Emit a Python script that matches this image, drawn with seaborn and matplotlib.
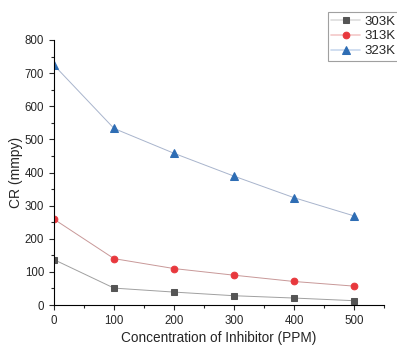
import matplotlib
matplotlib.use('Agg')
import matplotlib.pyplot as plt
import pandas as pd
import seaborn as sns
from matplotlib.ticker import MultipleLocator

# values
conc = [0, 100, 200, 300, 400, 500]
cr_303 = [137, 51, 39, 28, 21, 13]
cr_313 = [259, 140, 110, 90, 71, 57]
cr_323 = [724, 533, 458, 389, 324, 269]
labels = ['303K', '313K', '323K']

df = pd.DataFrame({'conc': conc * 3,
                   'cr': cr_303 + cr_313 + cr_323,
                   'temp': [labels[0]] * 6 + [labels[1]] * 6 + [labels[2]] * 6})

sns.set_style('ticks')
plt.rcParams['font.family'] = ['Liberation Sans', 'DejaVu Sans']

fig = plt.figure(figsize=(3.97, 3.46), dpi=100)
ax = fig.add_axes([54 / 397, 1 - 305 / 346, 330 / 397, 265 / 346])

marker_cols = ['#555555', '#e8383d', '#2e6db4']
line_cols = ['#a0a0a0', '#c89898', '#a8b4cc']
markers = ['s', 'o', '^']
msizes = [4.2, 4.8, 5.2]
for lab, mc, lc, mk, ms in zip(labels, marker_cols, line_cols, markers, msizes):
    sub = df[df.temp == lab]
    sns.lineplot(data=sub, x='conc', y='cr', ax=ax, color=lc, linewidth=0.7,
                 marker=mk, markersize=ms, markerfacecolor=mc,
                 markeredgecolor=mc, label=lab)

ax.set_xlim(0, 550)
ax.set_ylim(0, 800)
ax.xaxis.set_major_locator(MultipleLocator(100))
ax.xaxis.set_minor_locator(MultipleLocator(50))
ax.yaxis.set_major_locator(MultipleLocator(100))
ax.yaxis.set_minor_locator(MultipleLocator(50))
ax.tick_params(which='major', length=3.5, width=0.8, labelsize=8.3, direction='out')
ax.tick_params(which='minor', length=2, width=0.8, direction='out')
for s in ['top', 'right']:
    ax.spines[s].set_visible(False)
for s in ['left', 'bottom']:
    ax.spines[s].set_linewidth(0.8)
    ax.spines[s].set_color('black')

ax.set_xlabel('Concentration of Inhibitor (PPM)', fontsize=9.8, labelpad=3)
ax.set_ylabel('CR (mmpy)', fontsize=10, labelpad=1)

leg = ax.legend(loc='upper left', bbox_to_anchor=(274 / 330, 1 + 28 / 265),
                fontsize=9.5, frameon=True, fancybox=False, borderpad=0.25,
                labelspacing=0.2, handlelength=2.2, handletextpad=0.3,
                borderaxespad=0)
leg.get_frame().set_edgecolor('#888888')
leg.get_frame().set_linewidth(0.8)
for h, lc in zip(leg.get_lines(), ['#dddddd', '#f4c8c8', '#c8d8ee']):
    h.set_color(lc)
    h.set_linewidth(1.2)

fig.savefig('out.png', dpi=100)
